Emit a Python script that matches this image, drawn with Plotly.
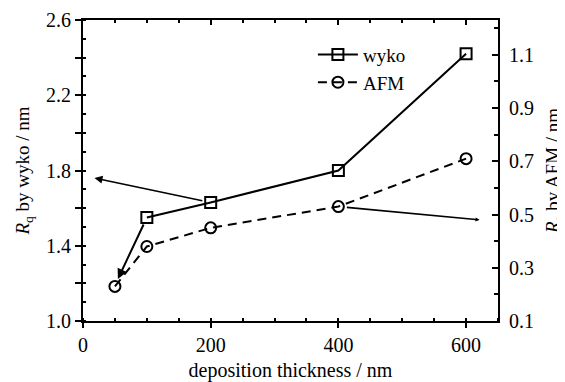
import plotly.graph_objects as go

# Data
thickness = [50, 100, 200, 400, 600]
wyko_rq = [1.19, 1.55, 1.63, 1.80, 2.42]
afm_ra = [0.23, 0.38, 0.45, 0.53, 0.71]

# Arrow heads (pointing to the axis each series belongs to)
wyko_arrow_head = [18, 1.76]     # from wyko point at 200 nm towards left axis
afm_arrow_head = [621, 0.48]     # from AFM point at 400 nm towards right axis

x_ticks = [0, 200, 400, 600]
left_tickvals = [1.0, 1.2, 1.4, 1.6, 1.8, 2.0, 2.2, 2.4, 2.6]
left_ticktext = ["1.0", "", "1.4", "", "1.8", "", "2.2", "", "2.6"]
right_ticks = [0.1, 0.3, 0.5, 0.7, 0.9, 1.1]

FONT = "Liberation Serif"
TICKFONT = dict(family=FONT, size=20, color="black")
TITLEFONT = dict(family=FONT, size=19, color="black")

fig = go.Figure()

fig.add_trace(go.Scatter(
    x=thickness[1:], y=wyko_rq[1:], name="wyko", mode="lines+markers",
    line=dict(color="black", width=2),
    marker=dict(symbol="square-open", size=11, color="black", line=dict(width=2)),
    xaxis="x", yaxis="y"))

fig.add_trace(go.Scatter(
    x=thickness, y=afm_ra, name="AFM", mode="lines+markers",
    line=dict(color="black", width=2, dash="9px,6px"),
    marker=dict(symbol="circle-open", size=11, color="black", line=dict(width=2)),
    xaxis="x", yaxis="y2"))

# invisible trace so the top axis is drawn
fig.add_trace(go.Scatter(x=[thickness[0]], y=[wyko_rq[0]], xaxis="x2", yaxis="y",
                         mode="markers", marker=dict(opacity=0), showlegend=False,
                         hoverinfo="skip"))

# wyko segment from 100 nm to 50 nm drawn as arrow
fig.add_annotation(x=thickness[0], y=wyko_rq[0], ax=thickness[1], ay=wyko_rq[1],
                   xref="x", yref="y", axref="x", ayref="y", text="",
                   showarrow=True, arrowhead=2, arrowsize=1, arrowwidth=2,
                   arrowcolor="black", standoff=7, startstandoff=6)
# arrow from wyko@200 to left axis
fig.add_annotation(x=wyko_arrow_head[0], y=wyko_arrow_head[1], ax=thickness[2], ay=wyko_rq[2],
                   xref="x", yref="y", axref="x", ayref="y", text="",
                   showarrow=True, arrowhead=2, arrowsize=1, arrowwidth=1.6,
                   arrowcolor="black", startstandoff=7)
# arrow from AFM@400 to right axis
fig.add_annotation(x=afm_arrow_head[0], y=afm_arrow_head[1], ax=thickness[3], ay=afm_ra[3],
                   xref="x", yref="y2", axref="x", ayref="y2", text="",
                   showarrow=True, arrowhead=2, arrowsize=0.5, arrowwidth=1.6,
                   arrowcolor="black", startstandoff=7)

base = dict(showline=True, linecolor="black", linewidth=2, showgrid=False,
            zeroline=False, tickwidth=2, tickcolor="black", automargin=False)

fig.update_layout(
    width=565, height=382,
    margin=dict(l=75, r=75, t=12, b=69),
    paper_bgcolor="white", plot_bgcolor="white",
    font=dict(family=FONT, color="black"),
    xaxis=dict(range=[0, 650], tickvals=x_ticks, ticks="outside", ticklen=5,
               tickfont=TICKFONT,
               minor=dict(dtick=50, ticks="inside", ticklen=3, tickwidth=2, tickcolor="black"),
               title=dict(text="deposition thickness / nm", font=dict(family=FONT, size=20),
                          standoff=8),
               **base),
    xaxis2=dict(range=[0, 650], overlaying="x", side="top", matches="x",
                showticklabels=False, ticks="inside", ticklen=5, tickvals=x_ticks,
                minor=dict(dtick=50, ticks="inside", ticklen=3, tickwidth=2, tickcolor="black"),
                **base),
    yaxis=dict(range=[1.0, 2.6], tickvals=left_tickvals, ticktext=left_ticktext,
               ticks="outside", ticklen=6, tickfont=TICKFONT,
               minor=dict(dtick=0.1, ticks="inside", ticklen=3, tickwidth=2, tickcolor="black"),
               title=dict(text="<i>R</i><sub>q</sub> by wyko / nm", font=TITLEFONT,
                          standoff=11),
               **base),
    yaxis2=dict(range=[0.1, 1.231], tickvals=right_ticks, tickformat=".1f",
                overlaying="y", side="right", ticks="inside", ticklen=6,
                tickfont=TICKFONT, ticklabelstandoff=5,
                minor=dict(dtick=0.1, tick0=0.1, ticks="inside", ticklen=4, tickwidth=2,
                           tickcolor="black"),
                title=dict(text="<i>R</i><sub>a</sub> by AFM / nm", font=TITLEFONT,
                           standoff=13),
                **base),
    legend=dict(x=0.554, y=0.948, xanchor="left", yanchor="top", bgcolor="rgba(0,0,0,0)",
                font=dict(family=FONT, size=19, color="black"), itemwidth=40,
                tracegroupgap=0),
    showlegend=True,
)

fig.write_html("out.html")
